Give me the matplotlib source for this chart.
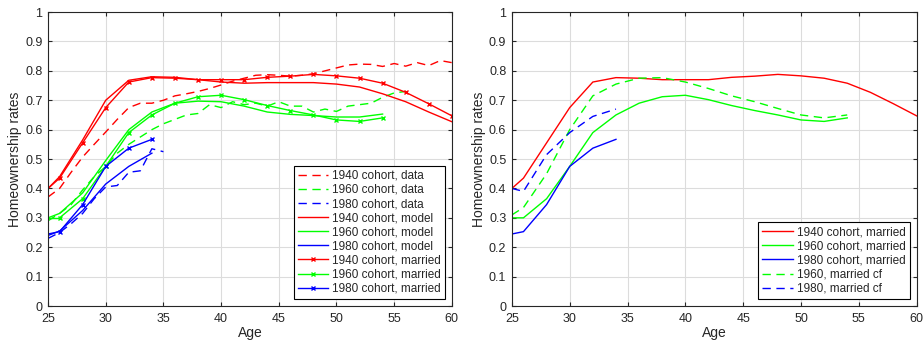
import numpy as np
import matplotlib
matplotlib.use("Agg")
import matplotlib.pyplot as plt

plt.rcParams['font.family'] = ['Liberation Sans', 'DejaVu Sans']

# edades
edad_anual_1940 = list(range(25, 61))
edad_anual_1960 = list(range(25, 57))
edad_anual_1980 = list(range(25, 36))
edad_1940 = [25, 26, 28, 30, 32, 34, 36, 38, 40, 42, 44, 46, 48, 50, 52, 54, 56, 58, 60]
edad_1960 = [25, 26, 28, 30, 32, 34, 36, 38, 40, 42, 44, 46, 48, 50, 52, 54]
edad_1980 = [25, 26, 28, 30, 32, 34]

# datos observados (anuales)
data_1940 = [0.371, 0.40, 0.455, 0.507, 0.55, 0.592, 0.635, 0.675, 0.69, 0.69, 0.70,
             0.715, 0.722, 0.73, 0.74, 0.752, 0.765, 0.775, 0.785, 0.787, 0.785,
             0.782, 0.785, 0.79, 0.80, 0.81, 0.82, 0.823, 0.822, 0.815, 0.825,
             0.816, 0.828, 0.818, 0.835, 0.828]
data_1960 = [0.29, 0.315, 0.345, 0.395, 0.44, 0.475, 0.52, 0.55, 0.575, 0.60, 0.62,
             0.635, 0.65, 0.655, 0.685, 0.675, 0.695, 0.685, 0.69, 0.68, 0.695,
             0.68, 0.68, 0.66, 0.67, 0.662, 0.68, 0.685, 0.69, 0.71, 0.725, 0.73]
data_1980 = [0.23, 0.25, 0.28, 0.315, 0.365, 0.405, 0.41, 0.455, 0.46, 0.535, 0.525]

# modelo
model_1940 = [0.40, 0.44, 0.565, 0.70, 0.768, 0.78, 0.778, 0.77, 0.762, 0.758, 0.76,
              0.76, 0.76, 0.755, 0.745, 0.722, 0.695, 0.66, 0.627]
model_1960 = [0.30, 0.315, 0.385, 0.495, 0.60, 0.66, 0.69, 0.697, 0.695, 0.68, 0.66,
              0.652, 0.648, 0.643, 0.643, 0.653]
model_1980 = [0.24, 0.255, 0.325, 0.415, 0.475, 0.52]

# casados
married_1940 = [0.40, 0.435, 0.555, 0.675, 0.762, 0.777, 0.775, 0.77, 0.77, 0.77, 0.778,
                0.782, 0.788, 0.783, 0.775, 0.758, 0.727, 0.688, 0.647]
married_1960 = [0.30, 0.30, 0.365, 0.475, 0.59, 0.65, 0.69, 0.712, 0.717, 0.702, 0.682,
                0.665, 0.65, 0.633, 0.628, 0.64]
married_1980 = [0.245, 0.253, 0.345, 0.475, 0.537, 0.567]

# contrafactuales
cf_1960 = [0.31, 0.335, 0.45, 0.60, 0.715, 0.755, 0.775, 0.777, 0.762, 0.74, 0.715,
           0.695, 0.672, 0.65, 0.64, 0.65]
cf_1980 = [0.40, 0.39, 0.515, 0.59, 0.645, 0.67]

R, G, B = (1, 0, 0), (0, 1, 0), (0, 0, 1)
txt = '#262626'


def estilo(ax):
    ax.set_xlim(25, 60)
    ax.set_ylim(0, 1)
    ax.set_xticks(range(25, 61, 5))
    ax.set_yticks(np.arange(0, 1.01, 0.1))
    ax.set_yticklabels(['0', '0.1', '0.2', '0.3', '0.4', '0.5', '0.6', '0.7', '0.8', '0.9', '1'])
    ax.grid(True, color='#dcdcdc', linewidth=0.8)
    ax.set_axisbelow(True)
    ax.tick_params(direction='in', top=True, right=True, length=3, labelsize=9,
                   colors=txt)
    ax.tick_params(axis='x', pad=5)
    ax.tick_params(axis='y', pad=4)
    for s in ax.spines.values():
        s.set_color(txt)
        s.set_linewidth(0.8)
    ax.set_xlabel('Age', fontsize=10, color=txt, labelpad=1)
    ax.set_ylabel('Homeownership rates', fontsize=10, color=txt, labelpad=2)


fig = plt.figure(figsize=(9.24, 3.45), dpi=100)
ax1 = fig.add_axes([0.052, 0.113, 0.437, 0.852])
ax2 = fig.add_axes([0.554, 0.113, 0.438, 0.852])

lw = 1.0
ax1.plot(edad_anual_1940, data_1940, '--', color=R, lw=lw, dashes=(6, 4), label='1940 cohort, data')
ax1.plot(edad_anual_1960, data_1960, '--', color=G, lw=lw, dashes=(6, 4), label='1960 cohort, data')
ax1.plot(edad_anual_1980, data_1980, '--', color=B, lw=lw, dashes=(6, 4), label='1980 cohort, data')
ax1.plot(edad_1940, model_1940, '-', color=R, lw=lw, label='1940 cohort, model')
ax1.plot(edad_1960, model_1960, '-', color=G, lw=lw, label='1960 cohort, model')
ax1.plot(edad_1980, model_1980, '-', color=B, lw=lw, label='1980 cohort, model')
ax1.plot(edad_1940[1:], married_1940[1:], '-x', color=R, lw=lw, ms=3.5, mew=1, label='1940 cohort, married')
ax1.plot(edad_1960[1:], married_1960[1:], '-x', color=G, lw=lw, ms=3.5, mew=1, label='1960 cohort, married')
ax1.plot(edad_1980[1:], married_1980[1:], '-x', color=B, lw=lw, ms=3.5, mew=1, label='1980 cohort, married')
# primer tramo sin marcador
ax1.plot(edad_1940[:2], married_1940[:2], '-', color=R, lw=lw)
ax1.plot(edad_1960[:2], married_1960[:2], '-', color=G, lw=lw)
ax1.plot(edad_1980[:2], married_1980[:2], '-', color=B, lw=lw)

ax2.plot(edad_1940, married_1940, '-', color=R, lw=lw, label='1940 cohort, married')
ax2.plot(edad_1960, married_1960, '-', color=G, lw=lw, label='1960 cohort, married')
ax2.plot(edad_1980, married_1980, '-', color=B, lw=lw, label='1980 cohort, married')
ax2.plot(edad_1960, cf_1960, '--', color=G, lw=lw, dashes=(6, 4), label='1960, married cf')
ax2.plot(edad_1980, cf_1980, '--', color=B, lw=lw, dashes=(6, 4), label='1980, married cf')

for ax in (ax1, ax2):
    estilo(ax)
    leg = ax.legend(loc='lower right', fontsize=8.5, handlelength=2.6, handletextpad=0.3,
                    labelspacing=0.18, borderpad=0.35, borderaxespad=0.6,
                    fancybox=False, framealpha=1, edgecolor='black')
    leg.get_frame().set_linewidth(0.8)
    for t in leg.get_texts():
        t.set_color(txt)

fig.savefig('out.png', dpi=100)
